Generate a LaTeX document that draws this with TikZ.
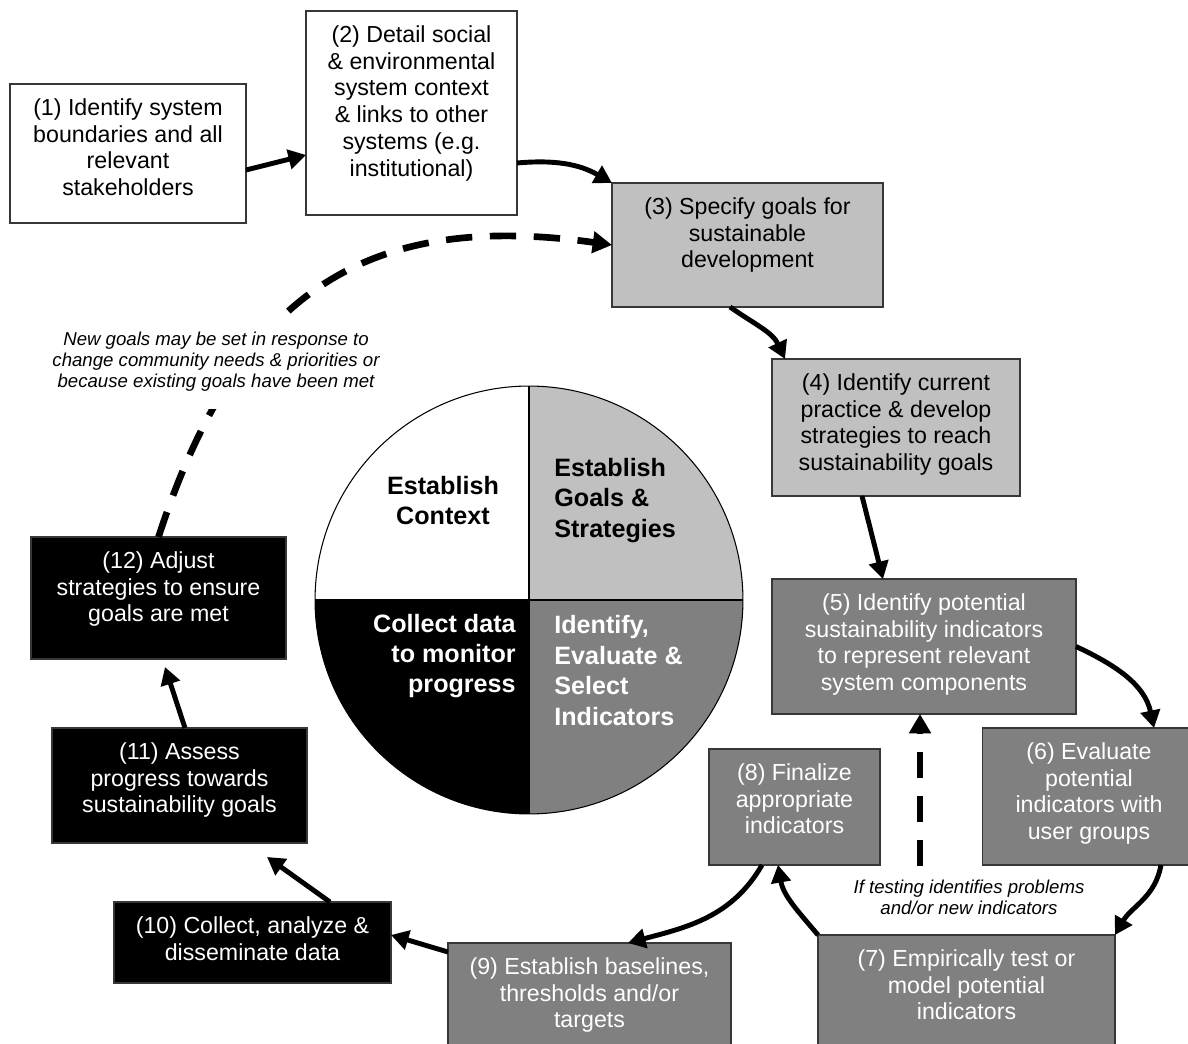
\documentclass[tikz,border=0pt]{standalone}
\usepackage{fontspec}
\setmainfont{Liberation Sans}
\usetikzlibrary{arrows.meta,calc}
\definecolor{lg}{RGB}{192,192,192}
\definecolor{dg}{RGB}{128,128,128}
\definecolor{bd}{RGB}{55,55,55}
\begin{document}
\begin{tikzpicture}[x=0.02cm,y=0.02cm,
  box/.style={draw=bd, line width=0.85pt, inner sep=0pt, outer sep=0pt},
  btxt/.style={anchor=north, align=center, inner sep=0pt, font=\fontsize{13.2}{15.3}\selectfont},
  ctxt/.style={inner sep=0pt, font=\fontsize{14.3}{17.3}\selectfont\bfseries},
  note/.style={inner sep=0pt, align=center, font=\fontsize{10.6}{11.9}\selectfont\itshape},
  arr/.style={line width=2.8pt, -{Triangle[length=10pt,width=11pt]}},
  darr/.style={line width=3.8pt, dash pattern=on 15pt off 10pt, -{Triangle[length=11pt,width=12pt]}},
]
\useasboundingbox (0,0) rectangle (1188,-1044);
\clip (0,0) rectangle (1188,-1044);

% central circle
\begin{scope}
  \clip (529,-600) circle[radius=214];
  \fill[white] (314,-385) rectangle (529,-600);
  \fill[lg] (529,-385) rectangle (744,-600);
  \fill[black] (314,-600) rectangle (529,-815);
  \fill[dg] (529,-600) rectangle (744,-815);
\end{scope}
\node[circle, draw, line width=0.6pt, minimum size=8.56cm, inner sep=0pt] (pie) at (529,-600) {};
\draw[line width=0.6pt] (pie.north) -- (pie.south) (pie.west) -- (pie.east);
\node[ctxt, align=center] (q1) at (443,-500.5) {Establish\\Context};
\node[ctxt, align=left, anchor=west] (q2) at (554,-500.5) {Establish\\Goals \&\\Strategies};
\node[ctxt, align=right, anchor=east, text=white] (q3) at (516,-656) {Collect data\\to monitor\\progress};
\node[ctxt, align=left, anchor=west, text=white] (q4) at (554,-670.5) {Identify,\\Evaluate \&\\Select\\Indicators};

% boxes
\node[box, fill=white, minimum width=4.72cm, minimum height=2.78cm] (n1) at (128,-153.5) {};
\node[btxt] (t1) at ([yshift=-0.28cm]n1.north) {(1) Identify system\\boundaries and all\\relevant\\stakeholders};
\node[box, fill=white, minimum width=4.22cm, minimum height=4.08cm] (n2) at (411.5,-113) {};
\node[btxt] (t2) at ([yshift=-0.28cm]n2.north) {(2) Detail social\\\& environmental\\system context\\\& links to other\\systems (e.g.\\institutional)};
\node[box, fill=lg, minimum width=5.42cm, minimum height=2.48cm] (n3) at (747.5,-245) {};
\node[btxt] (t3) at ([yshift=-0.28cm]n3.north) {(3) Specify goals for\\sustainable\\development};
\node[box, fill=lg, minimum width=4.96cm, minimum height=2.74cm] (n4) at (896,-427.5) {};
\node[btxt] (t4) at ([yshift=-0.28cm]n4.north) {(4) Identify current\\practice \& develop\\strategies to reach\\sustainability goals};
\node[box, fill=dg, minimum width=6.08cm, minimum height=2.70cm] (n5) at (924,-646.5) {};
\node[btxt, text=white] (t5) at ([yshift=-0.28cm]n5.north) {(5) Identify potential\\sustainability indicators\\to represent relevant\\system components};
\node[box, fill=dg, minimum width=4.14cm, minimum height=2.74cm] (n6) at (1086,-796.5) {};
\node[btxt, text=white] (t6) at ([yshift=-0.28cm,xshift=0.06cm]n6.north) {(6) Evaluate\\potential\\indicators with\\user groups};
\node[box, fill=dg, minimum width=5.94cm, minimum height=2.5cm] (n7) at (966.5,-997.5) {};
\node[btxt, text=white] (t7) at ([yshift=-0.28cm]n7.north) {(7) Empirically test or\\model potential\\indicators};
\node[box, fill=dg, minimum width=3.42cm, minimum height=2.32cm] (n8) at (794.5,-807) {};
\node[btxt, text=white] (t8) at ([yshift=-0.28cm]n8.north) {(8) Finalize\\appropriate\\indicators};
\node[box, fill=dg, minimum width=5.66cm, minimum height=2.34cm] (n9) at (589.5,-1001.5) {};
\node[btxt, text=white] (t9) at ([yshift=-0.28cm]n9.north) {(9) Establish baselines,\\thresholds and/or\\targets};
\node[box, fill=black, minimum width=5.54cm, minimum height=1.62cm] (n10) at (252.5,-942.5) {};
\node[btxt, text=white] (t10) at ([yshift=-0.28cm]n10.north) {(10) Collect, analyze \&\\disseminate data};
\node[box, fill=black, minimum width=5.10cm, minimum height=2.30cm] (n11) at (179.5,-785.5) {};
\node[btxt, text=white] (t11) at ([yshift=-0.28cm]n11.north) {(11) Assess\\progress towards\\sustainability goals};
\node[box, fill=black, minimum width=5.10cm, minimum height=2.44cm] (n12) at (158.5,-598) {};
\node[btxt, text=white] (t12) at ([yshift=-0.28cm]n12.north) {(12) Adjust\\strategies to ensure\\goals are met};

% dashed feedback loops
\draw[darr] (n12.north) to[out=72,in=172,looseness=1.2] (n3.west);
\node[note, fill=white, inner xsep=2pt, inner ysep=10pt] (ng) at (216,-362) {New goals may be set in response to\\change community needs \& priorities or\\because existing goals have been met};
\coordinate (dq) at (920,-866);
\draw[darr] (dq) -- (dq |- n5.south);
\node[note] (nt) at (969,-897) {If testing identifies problems\\and/or new indicators};

% solid arrows
\draw[arr] ([yshift=-0.33cm]n1.east) -- ([yshift=-0.84cm]n2.west);
\draw[arr] ([yshift=-1.0cm]n2.east) to[out=5,in=150] (n3.north west);
\draw[arr] ([xshift=-0.35cm]n3.south) to[out=-35,in=115] ([xshift=-2.22cm]n4.north);
\draw[arr] ([xshift=-0.68cm]n4.south) -- ([xshift=-0.82cm]n5.north);
\draw[arr] (n5.east) to[out=-25,in=102] ([xshift=1.36cm]n6.north);
\draw[arr] ([xshift=1.5cm]n6.south) to[out=-100,in=60] (n7.north east);
\draw[arr] (n7.north west) to[out=130,in=-80] ([xshift=-0.33cm]n8.south);
\draw[arr] ([xshift=-0.65cm]n8.south) to[out=-120,in=15] ([xshift=0.77cm]n9.north);
\draw[arr] ([yshift=0.99cm]n9.west) -- ([yshift=0.15cm]n10.east);
\draw[arr] ([xshift=1.55cm]n10.north) -- ([xshift=1.75cm,yshift=-0.28cm]n11.south);
\draw[arr] ([xshift=0.11cm]n11.north) -- ([xshift=0.13cm,yshift=-0.16cm]n12.south);
\end{tikzpicture}
\end{document}
